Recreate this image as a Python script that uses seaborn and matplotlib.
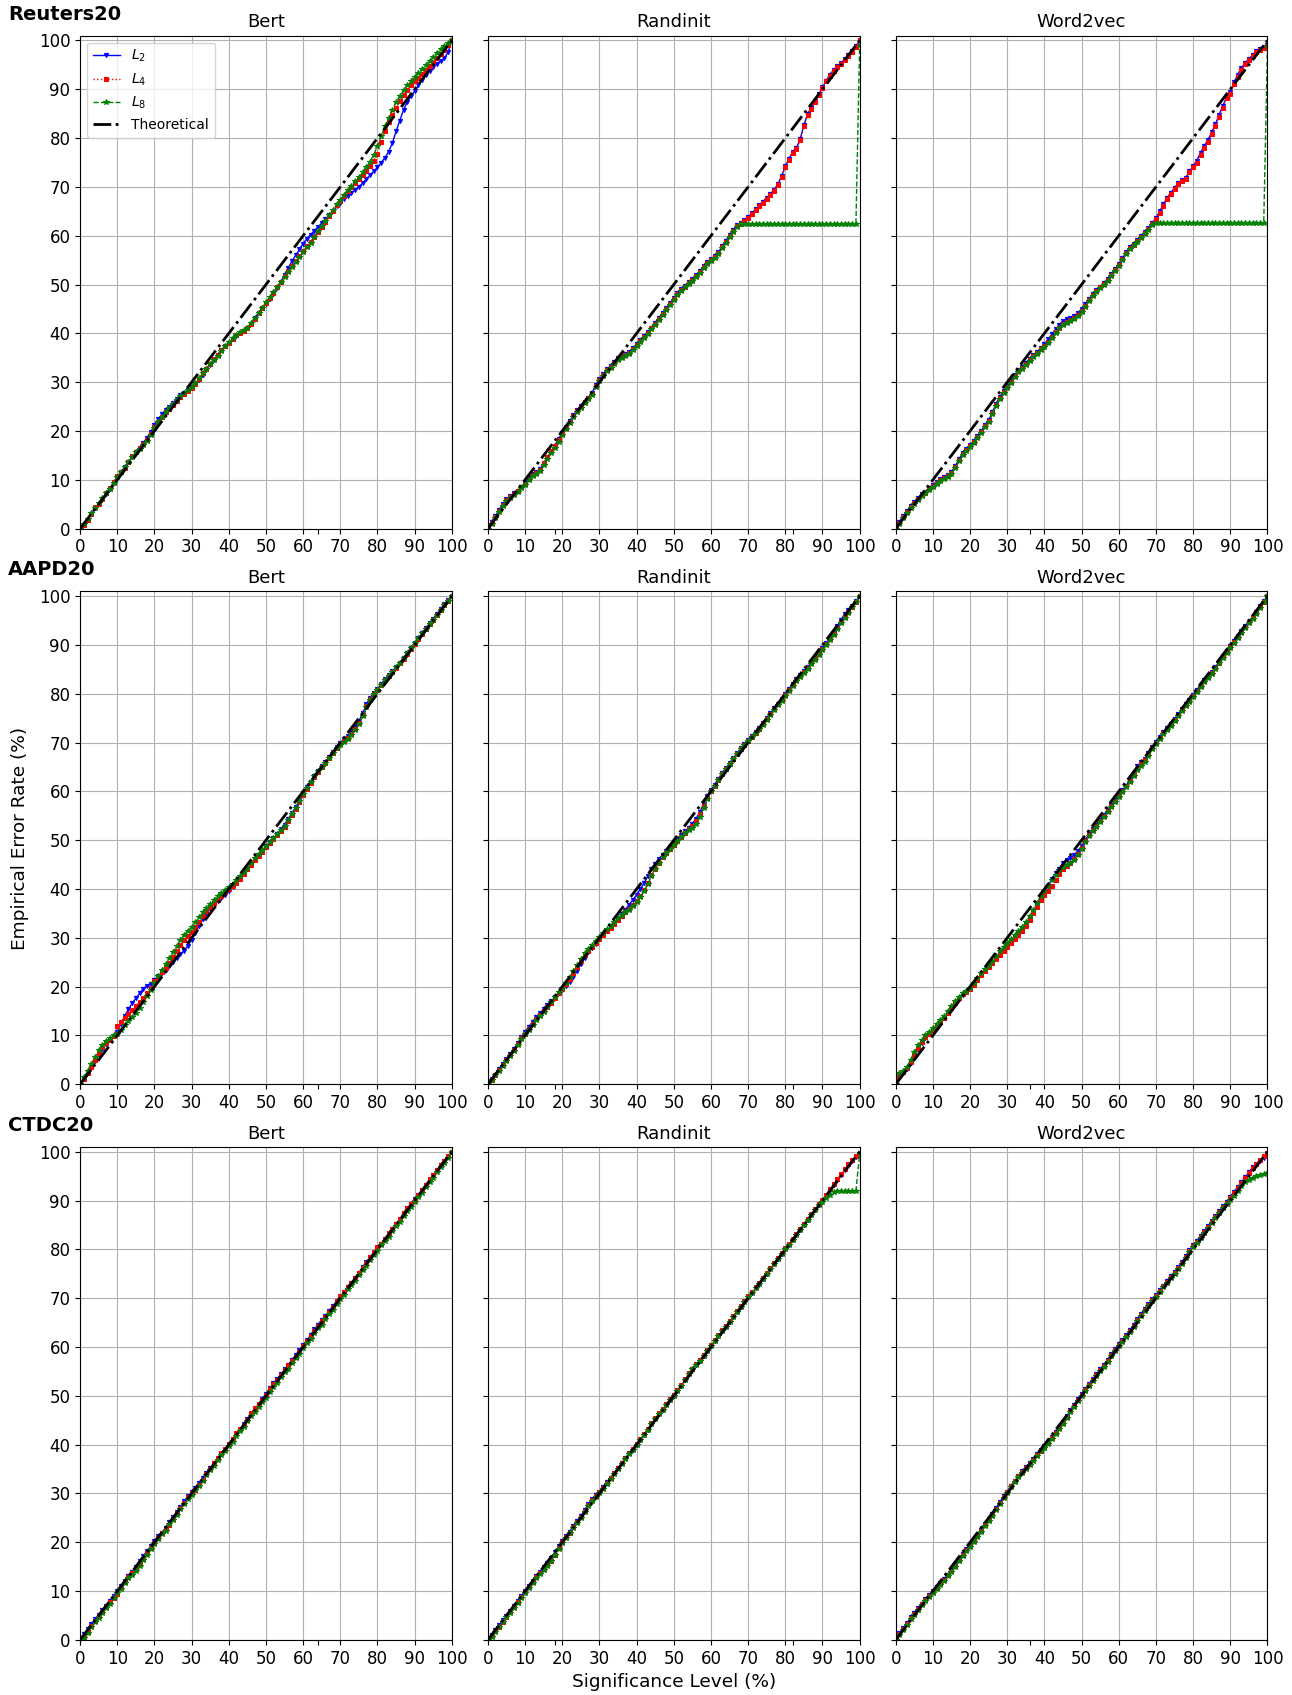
import numpy as np
import seaborn as sns
import matplotlib
matplotlib.use("Agg")
import matplotlib.pyplot as plt

# significance levels (%) on the x axis
sig_level = list(range(0, 101))

datasets = ["Reuters20", "AAPD20", "CTDC20"]
embeddings = ["Bert", "Randinit", "Word2vec"]

# ---------------- Reuters20 ----------------
reuters_bert_l2 = [
    0.0, 0.8, 1.8, 3.0, 4.2, 5.0, 6.0, 7.0, 8.2, 9.4,
    10.6, 11.6, 12.6, 13.6, 14.6, 15.6, 16.6, 17.6, 18.6, 19.8,
    21.2, 22.4, 23.4, 24.2, 25.0, 25.8, 26.6, 27.4, 27.8, 28.4,
    29.0, 29.6, 30.4, 31.4, 32.6, 33.6, 34.6, 35.6, 36.6, 37.4,
    38.0, 38.8, 39.4, 40.0, 40.4, 41.0, 42.0, 43.2, 44.2, 45.2,
    46.0, 47.0, 48.0, 49.2, 50.6, 52.0, 53.4, 54.8, 56.0, 57.2,
    58.4, 59.4, 60.2, 61.0, 61.8, 62.6, 63.4, 64.2, 65.0, 66.0,
    66.8, 67.6, 68.2, 68.8, 69.4, 70.0, 70.8, 71.6, 72.4, 73.2,
    74.0, 75.0, 76.0, 77.2, 79.0, 81.4, 83.6, 85.8, 87.4, 88.6,
    89.6, 90.8, 92.0, 93.0, 93.8, 94.6, 95.2, 95.8, 96.4, 97.6,
    100.0]
reuters_bert_l4 = [
    0.0, 0.8, 1.8, 3.0, 4.4, 5.0, 6.0, 7.2, 8.4, 9.6,
    10.8, 11.6, 12.4, 13.6, 14.8, 15.6, 16.6, 17.4, 18.2, 19.4,
    20.8, 21.8, 22.8, 23.8, 24.6, 25.4, 26.2, 27.0, 27.6, 28.2,
    28.8, 29.6, 30.6, 31.8, 32.8, 33.8, 34.8, 35.6, 36.6, 37.4,
    38.0, 38.8, 39.6, 40.0, 40.4, 41.0, 42.0, 43.0, 44.2, 45.2,
    46.2, 47.2, 48.2, 49.4, 50.6, 51.8, 52.8, 53.8, 54.8, 55.8,
    56.8, 57.8, 58.8, 59.8, 60.8, 61.8, 62.8, 64.0, 65.0, 66.2,
    67.2, 68.2, 69.2, 70.0, 70.8, 71.6, 72.4, 73.2, 74.2, 75.4,
    76.8, 79.2, 81.4, 83.2, 84.8, 86.2, 87.6, 88.8, 89.8, 90.8,
    91.6, 92.4, 93.2, 94.0, 94.8, 95.6, 96.4, 97.2, 98.0, 99.0,
    100.0]
reuters_bert_l8 = [
    0.0, 1.0, 2.0, 3.2, 4.2, 5.2, 6.2, 7.2, 8.2, 9.4,
    10.6, 11.6, 12.6, 13.6, 14.6, 15.6, 16.4, 17.2, 18.0, 19.2,
    20.6, 21.8, 22.8, 23.8, 24.8, 25.6, 26.4, 27.2, 27.8, 28.4,
    29.0, 29.8, 30.8, 31.8, 32.8, 33.8, 34.6, 35.4, 36.4, 37.4,
    38.2, 39.0, 39.6, 40.2, 40.6, 41.2, 42.2, 43.2, 44.2, 45.2,
    46.4, 47.4, 48.4, 49.6, 50.6, 51.6, 52.6, 53.6, 54.6, 55.6,
    56.6, 57.6, 58.6, 59.8, 61.0, 62.0, 63.0, 64.2, 65.2, 66.4,
    67.4, 68.4, 69.4, 70.2, 71.2, 72.0, 73.0, 74.0, 75.2, 76.6,
    78.4, 80.4, 82.4, 84.2, 85.8, 87.4, 88.6, 89.8, 90.8, 91.8,
    92.6, 93.4, 94.2, 95.0, 95.8, 96.6, 97.4, 98.2, 98.8, 99.4,
    100.0]

reuters_rand_l2 = [
    0.0, 1.4, 2.6, 3.8, 5.0, 6.0, 6.6, 7.2, 7.8, 8.6,
    9.4, 10.4, 11.2, 11.6, 12.2, 13.4, 14.6, 15.8, 17.0, 18.4,
    19.6, 20.8, 22.0, 23.2, 24.2, 25.2, 26.0, 26.8, 27.8, 29.4,
    30.6, 31.6, 32.6, 33.4, 34.2, 35.0, 35.4, 35.8, 36.2, 37.0,
    37.8, 38.6, 39.4, 40.2, 41.2, 42.2, 43.2, 44.2, 45.2, 46.2,
    47.2, 48.2, 49.0, 49.8, 50.6, 51.2, 52.0, 52.8, 53.8, 54.6,
    55.2, 55.8, 56.6, 57.8, 59.0, 60.2, 61.2, 62.2, 62.7, 63.2,
    63.8, 64.6, 65.4, 66.2, 67.0, 67.8, 68.6, 69.4, 70.6, 72.2,
    74.2, 75.8, 77.2, 78.0, 79.8, 82.6, 85.0, 86.2, 87.6, 89.0,
    90.4, 91.8, 93.0, 94.0, 94.8, 95.4, 96.2, 97.0, 97.8, 98.8,
    100.0]
reuters_rand_l4 = [
    0.0, 1.2, 2.4, 3.6, 4.8, 5.8, 6.4, 7.0, 7.8, 8.6,
    9.2, 10.2, 11.0, 11.4, 12.0, 13.4, 14.6, 15.8, 17.0, 18.2,
    19.4, 20.6, 21.8, 23.0, 24.0, 25.0, 26.0, 26.8, 27.6, 29.2,
    30.4, 31.4, 32.4, 33.2, 34.0, 34.8, 35.2, 35.6, 36.0, 36.8,
    37.6, 38.4, 39.2, 40.0, 41.0, 42.0, 43.0, 44.0, 45.0, 46.0,
    47.0, 48.0, 48.8, 49.6, 50.4, 51.0, 51.8, 52.6, 53.6, 54.4,
    55.0, 55.6, 56.4, 57.6, 58.8, 60.0, 61.0, 62.0, 62.5, 63.0,
    63.6, 64.4, 65.2, 66.0, 66.8, 67.6, 68.4, 69.2, 70.4, 72.0,
    74.0, 75.6, 77.0, 77.8, 79.6, 82.4, 84.8, 86.0, 87.4, 88.8,
    90.2, 91.6, 92.8, 93.8, 94.6, 95.2, 96.0, 96.8, 97.6, 98.6,
    100.0]
reuters_rand_l8 = [
    0.0, 1.0, 2.2, 3.4, 4.6, 5.6, 6.2, 6.8, 7.6, 8.4,
    9.0, 10.0, 10.8, 11.2, 11.8, 13.0, 14.2, 15.4, 16.6, 17.8,
    19.2, 20.4, 21.6, 22.8, 23.8, 24.8, 25.8, 26.6, 27.4, 29.0,
    30.2, 31.2, 32.2, 33.0, 33.8, 34.6, 35.0, 35.4, 35.8, 36.6,
    37.4, 38.2, 39.0, 39.8, 40.8, 41.8, 42.8, 43.8, 44.8, 45.8,
    46.8, 47.8, 48.6, 49.4, 50.2, 50.8, 51.6, 52.4, 53.4, 54.2,
    54.8, 55.4, 56.2, 57.4, 58.6, 59.8, 60.8, 61.8, 62.5, 62.5,
    62.5, 62.5, 62.5, 62.5, 62.5, 62.5, 62.5, 62.5, 62.5, 62.5,
    62.5, 62.5, 62.5, 62.5, 62.5, 62.5, 62.5, 62.5, 62.5, 62.5,
    62.5, 62.5, 62.5, 62.5, 62.5, 62.5, 62.5, 62.5, 62.5, 62.5,
    99.0]

reuters_w2v_l2 = [
    0.0, 1.4, 2.6, 3.6, 4.6, 5.4, 6.2, 7.0, 7.6, 8.4,
    9.0, 9.6, 10.2, 10.6, 11.0, 11.6, 12.8, 14.2, 15.4, 16.4,
    17.2, 18.0, 19.0, 20.0, 21.2, 22.2, 23.8, 25.6, 27.0, 28.2,
    29.2, 30.2, 31.4, 32.4, 33.2, 34.0, 34.8, 35.6, 36.2, 37.0,
    37.8, 38.8, 39.8, 40.8, 41.8, 42.6, 43.0, 43.2, 43.6, 44.2,
    45.0, 46.0, 47.0, 48.0, 48.8, 49.6, 50.4, 51.2, 52.2, 53.2,
    54.2, 55.4, 56.6, 57.6, 58.4, 59.2, 60.0, 60.8, 61.6, 62.6,
    63.6, 65.0, 66.4, 67.8, 68.8, 69.8, 70.8, 71.4, 71.8, 73.2,
    74.2, 75.4, 77.0, 78.4, 79.6, 81.2, 82.8, 84.8, 86.6, 88.4,
    89.4, 91.4, 93.0, 94.4, 95.4, 96.2, 97.0, 97.8, 98.2, 98.6,
    99.0]
reuters_w2v_l4 = [
    0.0, 1.2, 2.4, 3.4, 4.4, 5.2, 6.0, 6.8, 7.4, 8.2,
    8.8, 9.4, 10.0, 10.4, 10.8, 11.4, 12.6, 14.0, 15.2, 16.2,
    17.0, 17.8, 18.8, 19.8, 21.0, 22.0, 23.6, 25.4, 26.8, 28.0,
    29.0, 30.0, 31.2, 32.2, 33.0, 33.8, 34.6, 35.4, 36.0, 36.8,
    37.4, 38.2, 39.2, 40.2, 41.2, 42.0, 42.4, 42.8, 43.2, 43.8,
    44.6, 45.6, 46.8, 47.8, 48.6, 49.4, 50.2, 51.0, 52.0, 53.0,
    54.0, 55.2, 56.4, 57.4, 58.2, 59.0, 59.8, 60.6, 61.4, 62.4,
    63.4, 64.6, 66.0, 67.6, 68.6, 69.6, 70.6, 71.3, 71.6, 73.0,
    74.0, 75.0, 76.6, 78.0, 79.2, 80.8, 82.4, 84.4, 86.2, 88.2,
    89.0, 91.0, 92.6, 94.0, 95.2, 96.0, 96.8, 97.6, 98.0, 98.4,
    98.8]
reuters_w2v_l8 = [
    0.0, 1.0, 2.2, 3.2, 4.2, 5.0, 5.8, 6.6, 7.2, 8.0,
    8.6, 9.2, 9.8, 10.2, 10.6, 11.2, 12.4, 13.8, 15.0, 16.0,
    16.8, 17.6, 18.6, 19.6, 20.8, 21.8, 23.4, 25.2, 26.6, 27.8,
    28.8, 29.8, 31.0, 32.0, 32.8, 33.6, 34.4, 35.2, 35.8, 36.6,
    37.2, 38.0, 39.0, 40.0, 41.0, 41.8, 42.2, 42.6, 43.0, 43.6,
    44.4, 45.4, 46.6, 47.6, 48.4, 49.2, 50.0, 50.8, 51.8, 52.8,
    53.8, 55.0, 56.2, 57.2, 58.0, 58.8, 59.6, 60.4, 61.2, 62.2,
    62.7, 62.7, 62.7, 62.7, 62.7, 62.7, 62.7, 62.7, 62.7, 62.7,
    62.7, 62.7, 62.7, 62.7, 62.7, 62.7, 62.7, 62.7, 62.7, 62.7,
    62.7, 62.7, 62.7, 62.7, 62.7, 62.7, 62.7, 62.7, 62.7, 62.7,
    98.8]

# ---------------- AAPD20 ----------------
aapd_bert_l2 = [
    0.0, 1.2, 2.4, 3.6, 4.8, 6.0, 7.2, 8.2, 9.0, 9.8,
    10.8, 12.4, 14.0, 15.4, 16.6, 17.6, 18.6, 19.6, 20.2, 20.6,
    21.4, 22.2, 22.8, 23.4, 24.2, 25.0, 25.8, 26.6, 27.4, 28.4,
    29.6, 31.0, 32.4, 33.8, 35.0, 36.0, 37.0, 37.6, 38.2, 38.8,
    39.6, 40.4, 41.2, 42.2, 43.2, 44.2, 45.2, 46.2, 47.0, 47.8,
    48.8, 49.6, 50.4, 51.2, 52.2, 53.2, 54.4, 55.6, 56.8, 58.2,
    59.6, 60.8, 62.0, 63.2, 64.2, 65.2, 66.0, 67.0, 68.0, 69.0,
    70.0, 70.8, 71.4, 72.2, 73.2, 74.4, 76.0, 77.8, 79.2, 80.2,
    81.0, 82.0, 83.0, 83.8, 84.6, 85.4, 86.4, 87.4, 88.4, 89.4,
    90.4, 91.4, 92.4, 93.4, 94.4, 95.4, 96.4, 97.4, 98.4, 99.2,
    100.0]
aapd_bert_l4 = [
    0.0, 1.0, 2.4, 3.6, 5.0, 6.4, 7.6, 8.4, 9.0, 9.8,
    12.0, 12.8, 13.6, 14.4, 15.2, 16.0, 16.8, 17.6, 18.6, 19.8,
    21.2, 22.0, 23.0, 23.8, 24.8, 26.0, 27.4, 28.6, 29.6, 30.4,
    31.2, 32.2, 33.2, 34.4, 35.4, 36.4, 37.2, 37.8, 38.6, 39.4,
    40.0, 40.6, 41.2, 42.0, 43.0, 44.0, 45.0, 46.0, 46.8, 47.6,
    48.6, 49.4, 50.2, 51.0, 51.8, 52.8, 54.0, 55.2, 56.4, 57.8,
    59.2, 60.4, 61.8, 63.0, 64.0, 65.0, 65.8, 66.8, 67.8, 68.8,
    69.8, 70.4, 71.0, 71.8, 72.8, 74.0, 75.6, 77.4, 79.0, 80.0,
    80.8, 81.8, 82.8, 83.6, 84.4, 85.2, 86.2, 87.2, 88.2, 89.2,
    90.2, 91.2, 92.2, 93.2, 94.2, 95.2, 96.2, 97.2, 98.2, 99.0,
    100.0]
aapd_bert_l8 = [
    0.0, 1.4, 2.8, 4.2, 5.6, 7.0, 8.0, 8.8, 9.4, 10.0,
    10.4, 11.2, 12.2, 13.0, 13.8, 14.6, 15.6, 16.8, 18.0, 19.4,
    20.8, 22.2, 23.4, 24.6, 25.8, 27.0, 28.4, 29.6, 30.6, 31.4,
    32.2, 33.2, 34.2, 35.2, 36.2, 37.0, 37.8, 38.6, 39.2, 39.8,
    40.4, 41.0, 41.8, 42.6, 43.4, 44.4, 45.4, 46.4, 47.2, 48.0,
    48.8, 49.6, 50.4, 51.2, 52.0, 53.0, 54.2, 55.4, 56.6, 58.0,
    59.4, 60.6, 62.0, 63.2, 64.2, 65.0, 65.8, 66.8, 67.8, 68.8,
    69.6, 70.2, 70.8, 71.6, 72.6, 73.8, 75.4, 77.2, 78.8, 80.0,
    80.8, 81.8, 82.8, 83.6, 84.4, 85.4, 86.4, 87.4, 88.4, 89.4,
    90.4, 91.4, 92.4, 93.2, 94.2, 95.2, 96.2, 97.2, 98.2, 99.0,
    100.0]

aapd_rand_l2 = [
    0.0, 1.0, 2.0, 3.2, 4.2, 5.2, 6.2, 7.2, 8.4, 9.6,
    10.8, 11.8, 12.8, 13.8, 14.6, 15.4, 16.2, 17.0, 17.8, 18.6,
    19.4, 20.2, 21.0, 22.0, 23.2, 24.6, 25.8, 27.0, 28.0, 28.8,
    29.8, 30.6, 31.4, 32.2, 33.0, 33.8, 34.8, 35.8, 36.8, 37.8,
    38.8, 40.0, 41.2, 42.6, 44.0, 45.2, 46.2, 47.0, 47.8, 48.6,
    49.4, 50.2, 51.0, 51.8, 52.6, 53.4, 54.4, 55.8, 57.4, 59.0,
    60.2, 61.4, 62.6, 63.8, 64.8, 65.8, 66.8, 67.8, 68.8, 69.8,
    70.6, 71.4, 72.2, 73.0, 74.0, 75.0, 76.0, 77.0, 78.0, 79.0,
    80.0, 81.0, 82.0, 83.0, 83.8, 84.6, 85.4, 86.4, 87.4, 88.4,
    89.4, 90.4, 91.4, 92.4, 93.8, 95.2, 96.4, 97.2, 98.0, 99.0,
    100.0]
aapd_rand_l4 = [
    0.0, 0.8, 1.8, 3.0, 4.0, 5.0, 6.0, 7.0, 8.2, 9.4,
    10.4, 11.4, 12.4, 13.4, 14.2, 15.0, 15.8, 16.6, 17.6, 18.6,
    19.6, 20.6, 21.6, 22.8, 24.0, 25.2, 26.4, 27.4, 28.2, 29.0,
    29.8, 30.6, 31.4, 32.0, 32.8, 33.6, 34.4, 35.2, 36.0, 36.8,
    37.6, 38.6, 39.8, 41.2, 42.8, 44.2, 45.4, 46.6, 47.4, 48.2,
    49.0, 49.8, 50.6, 51.4, 52.2, 53.0, 54.0, 55.4, 57.0, 58.6,
    60.0, 61.2, 62.4, 63.6, 64.6, 65.6, 66.6, 67.6, 68.6, 69.6,
    70.4, 71.2, 72.0, 72.8, 73.8, 74.8, 75.8, 76.8, 77.8, 78.8,
    79.8, 80.8, 81.8, 82.8, 83.6, 84.4, 85.2, 86.2, 87.2, 88.2,
    89.2, 90.2, 91.2, 92.2, 93.4, 94.6, 95.8, 96.8, 97.8, 98.8,
    100.0]
aapd_rand_l8 = [
    0.0, 0.8, 1.8, 2.8, 3.8, 4.8, 5.8, 6.8, 8.0, 9.2,
    10.2, 11.2, 12.2, 13.2, 14.0, 14.8, 15.8, 16.8, 17.8, 18.8,
    19.8, 20.8, 22.0, 23.2, 24.4, 25.6, 26.8, 27.8, 28.6, 29.4,
    30.2, 31.0, 31.8, 32.4, 33.2, 34.0, 34.6, 35.2, 35.8, 36.6,
    37.4, 38.4, 39.6, 41.0, 42.6, 44.0, 45.4, 46.6, 47.4, 48.2,
    49.0, 49.8, 50.6, 51.4, 52.0, 52.6, 53.4, 54.8, 56.6, 58.4,
    60.0, 61.2, 62.4, 63.6, 64.6, 65.6, 66.6, 67.6, 68.6, 69.6,
    70.4, 71.2, 72.0, 72.8, 73.6, 74.6, 75.6, 76.6, 77.6, 78.6,
    79.6, 80.6, 81.6, 82.6, 83.4, 84.2, 85.0, 86.0, 87.0, 88.0,
    89.0, 90.0, 91.0, 92.0, 93.2, 94.4, 95.6, 96.6, 97.8, 98.8,
    100.0]

aapd_w2v_l2 = [
    0.0, 1.4, 2.4, 3.2, 4.4, 5.8, 7.2, 8.4, 9.4, 10.2,
    11.0, 11.8, 12.6, 13.6, 14.6, 15.6, 16.6, 17.4, 18.2, 18.8,
    19.6, 20.6, 21.6, 22.6, 23.4, 24.2, 25.0, 25.8, 26.8, 27.8,
    28.6, 29.4, 30.2, 31.0, 31.8, 32.8, 34.0, 35.4, 36.8, 38.2,
    39.4, 40.6, 42.0, 43.2, 44.2, 45.4, 46.0, 46.4, 47.0, 47.8,
    48.8, 50.0, 51.2, 52.2, 53.2, 54.2, 55.2, 56.2, 57.2, 58.2,
    59.2, 60.2, 61.2, 62.4, 63.8, 65.2, 66.0, 66.6, 67.8, 69.0,
    70.2, 71.2, 72.2, 73.0, 73.8, 74.8, 75.8, 76.8, 77.8, 78.8,
    79.8, 80.8, 81.8, 82.8, 83.6, 84.4, 85.4, 86.6, 87.8, 88.8,
    89.8, 90.8, 91.8, 92.8, 93.8, 94.8, 95.8, 96.8, 98.0, 99.0,
    100.0]
aapd_w2v_l4 = [
    0.0, 1.6, 2.6, 3.4, 4.6, 6.0, 7.4, 8.6, 9.6, 10.4,
    11.2, 12.0, 12.8, 13.6, 14.6, 15.6, 16.6, 17.6, 18.4, 19.0,
    19.6, 20.4, 21.4, 22.4, 23.2, 24.0, 24.8, 25.6, 26.4, 27.4,
    28.2, 29.0, 29.8, 30.6, 31.4, 32.4, 33.6, 35.0, 36.4, 37.8,
    38.8, 39.6, 40.6, 41.8, 43.0, 44.0, 44.8, 45.4, 46.2, 47.2,
    48.4, 49.8, 51.0, 52.0, 53.0, 54.0, 55.0, 56.0, 57.0, 58.0,
    59.0, 60.0, 61.0, 62.2, 63.4, 64.6, 65.6, 66.4, 67.6, 68.8,
    70.0, 71.0, 72.0, 72.8, 73.6, 74.6, 75.6, 76.6, 77.6, 78.6,
    79.6, 80.6, 81.6, 82.6, 83.4, 84.2, 85.2, 86.4, 87.6, 88.6,
    89.6, 90.6, 91.6, 92.6, 93.6, 94.6, 95.6, 96.6, 97.8, 98.8,
    100.0]
aapd_w2v_l8 = [
    0.0, 2.4, 2.8, 3.6, 5.0, 6.6, 8.0, 9.0, 10.0, 10.8,
    11.6, 12.4, 13.2, 14.0, 15.0, 16.0, 17.0, 17.8, 18.6, 19.2,
    19.8, 20.8, 21.8, 22.8, 23.6, 24.4, 25.2, 26.2, 27.2, 28.2,
    29.0, 29.8, 30.6, 31.4, 32.2, 33.2, 34.4, 35.8, 37.2, 38.6,
    39.6, 40.6, 41.8, 42.8, 43.8, 44.6, 45.0, 45.4, 46.0, 47.0,
    48.2, 49.6, 50.8, 51.8, 52.8, 53.8, 54.8, 55.8, 56.8, 57.8,
    58.8, 59.8, 60.8, 62.0, 63.2, 64.4, 65.2, 66.0, 67.2, 68.6,
    69.8, 70.8, 71.8, 72.6, 73.4, 74.4, 75.4, 76.4, 77.4, 78.4,
    79.4, 80.4, 81.4, 82.4, 83.2, 84.0, 85.0, 86.2, 87.4, 88.4,
    89.4, 90.4, 91.4, 92.4, 93.4, 94.4, 95.4, 96.4, 97.6, 98.8,
    100.0]

# ---------------- CTDC20 ----------------
ctdc_bert_l2 = [
    0.0, 1.2, 2.2, 3.2, 4.2, 5.2, 6.2, 7.0, 8.0, 9.0,
    10.0, 11.0, 12.0, 13.0, 14.0, 15.0, 16.2, 17.2, 18.2, 19.2,
    20.2, 21.2, 22.0, 23.0, 24.2, 25.2, 26.2, 27.2, 28.4, 29.4,
    30.2, 31.2, 32.2, 33.2, 34.2, 35.2, 36.2, 37.0, 38.0, 39.0,
    40.0, 41.0, 42.0, 43.0, 44.2, 45.2, 46.2, 47.2, 48.2, 49.4,
    50.4, 51.6, 52.6, 53.4, 54.4, 55.4, 56.4, 57.4, 58.4, 59.4,
    60.4, 61.4, 62.4, 63.6, 64.6, 65.6, 66.4, 67.4, 68.4, 69.4,
    70.2, 71.2, 72.2, 73.2, 74.2, 75.2, 76.4, 77.4, 78.4, 79.2,
    80.2, 81.2, 82.2, 83.2, 84.2, 85.2, 86.2, 87.2, 88.4, 89.4,
    90.4, 91.2, 92.2, 93.2, 94.2, 95.2, 96.2, 97.2, 98.2, 99.0,
    100.0]
ctdc_bert_l4 = [
    0.0, 0.6, 1.6, 2.8, 3.8, 4.8, 5.8, 6.8, 7.8, 8.6,
    9.4, 10.6, 11.8, 12.8, 13.8, 14.6, 15.6, 16.6, 17.8, 18.8,
    19.8, 20.8, 21.8, 22.8, 23.6, 24.8, 26.0, 27.0, 28.0, 29.2,
    30.0, 30.8, 31.8, 32.8, 34.0, 35.0, 36.2, 37.2, 38.2, 39.2,
    40.2, 41.2, 42.4, 43.2, 44.0, 45.0, 46.4, 47.6, 48.4, 49.2,
    50.2, 51.4, 52.4, 53.2, 54.2, 55.2, 56.4, 57.2, 58.0, 59.0,
    60.2, 61.2, 62.2, 63.2, 64.4, 65.4, 66.2, 67.2, 68.2, 69.4,
    70.4, 71.2, 72.2, 73.2, 74.2, 75.2, 76.2, 77.2, 78.4, 79.4,
    80.4, 81.2, 82.2, 83.4, 84.2, 85.2, 86.2, 87.4, 88.4, 89.2,
    90.2, 91.2, 92.2, 93.2, 94.4, 95.2, 96.2, 97.2, 98.2, 99.2,
    100.0]
ctdc_bert_l8 = [
    0.0, 0.4, 1.4, 2.6, 3.6, 4.4, 5.6, 6.6, 7.4, 8.6,
    9.6, 10.4, 11.6, 12.6, 13.4, 14.2, 15.2, 16.4, 17.4, 18.6,
    19.6, 20.6, 21.6, 22.4, 23.8, 24.6, 25.6, 26.8, 27.8, 28.8,
    29.6, 30.8, 31.6, 32.6, 33.8, 34.8, 35.6, 36.8, 37.8, 38.8,
    39.8, 40.6, 41.8, 42.8, 43.6, 44.8, 45.8, 46.6, 47.8, 48.8,
    49.6, 50.8, 51.8, 52.6, 53.8, 54.8, 55.6, 56.8, 57.8, 58.6,
    59.8, 60.8, 61.6, 62.8, 63.8, 64.6, 65.8, 66.8, 67.6, 68.8,
    69.8, 70.6, 71.8, 72.8, 73.6, 74.8, 75.8, 76.6, 77.8, 78.8,
    79.6, 80.8, 81.8, 82.6, 83.8, 84.8, 85.6, 86.8, 87.8, 88.6,
    89.8, 90.8, 91.6, 92.8, 93.8, 94.6, 95.8, 96.8, 97.6, 98.8,
    100.0]

ctdc_rand_l2 = [
    0.0, 1.0, 2.0, 3.0, 4.0, 5.0, 6.0, 7.0, 8.0, 9.0,
    10.0, 11.0, 12.0, 13.0, 14.0, 15.0, 15.8, 16.8, 18.0, 19.2,
    20.2, 21.2, 22.2, 23.4, 24.4, 25.4, 26.6, 27.8, 28.8, 29.6,
    30.4, 31.4, 32.4, 33.2, 34.2, 35.2, 36.2, 37.2, 38.2, 39.0,
    40.0, 41.0, 42.0, 43.0, 44.2, 45.2, 46.2, 47.2, 48.2, 49.2,
    50.0, 51.0, 52.0, 53.2, 54.4, 55.4, 56.4, 57.2, 58.2, 59.2,
    60.2, 61.2, 62.2, 63.2, 64.2, 65.2, 66.2, 67.2, 68.2, 69.2,
    70.2, 71.0, 72.0, 73.0, 74.0, 75.0, 76.0, 77.0, 78.0, 79.0,
    80.0, 81.0, 82.0, 83.0, 84.0, 85.0, 86.0, 87.0, 88.0, 89.0,
    90.0, 91.0, 92.2, 93.2, 94.2, 95.2, 96.2, 97.2, 98.2, 99.0,
    99.6]
ctdc_rand_l4 = [
    0.0, 0.8, 1.8, 2.6, 3.6, 4.6, 5.8, 6.8, 7.8, 8.8,
    9.8, 10.8, 11.8, 12.8, 13.8, 14.6, 15.4, 16.2, 17.4, 18.8,
    20.0, 21.0, 22.0, 23.2, 24.2, 25.2, 26.4, 27.6, 28.6, 29.4,
    30.2, 31.2, 32.2, 33.2, 34.2, 35.2, 36.2, 37.2, 38.2, 39.2,
    40.2, 41.2, 42.2, 43.2, 44.4, 45.4, 46.4, 47.4, 48.4, 49.4,
    50.2, 51.2, 52.2, 53.4, 54.6, 55.6, 56.6, 57.4, 58.4, 59.4,
    60.4, 61.4, 62.4, 63.4, 64.4, 65.4, 66.4, 67.4, 68.4, 69.4,
    70.4, 71.2, 72.2, 73.2, 74.2, 75.2, 76.2, 77.2, 78.2, 79.2,
    80.2, 81.2, 82.2, 83.2, 84.2, 85.2, 86.2, 87.2, 88.2, 89.2,
    90.2, 91.2, 92.4, 93.4, 94.4, 95.4, 96.4, 97.4, 98.4, 99.2,
    99.8]
ctdc_rand_l8 = [
    0.0, 0.6, 1.6, 2.6, 3.6, 4.6, 5.6, 6.6, 7.6, 8.6,
    9.6, 10.6, 11.6, 12.6, 13.6, 14.4, 15.2, 16.2, 17.4, 18.6,
    19.8, 20.8, 21.8, 23.0, 24.0, 25.0, 26.2, 27.4, 28.4, 29.2,
    30.0, 31.0, 32.0, 33.0, 34.0, 35.0, 36.0, 37.0, 38.0, 39.0,
    40.0, 41.0, 42.0, 43.0, 44.2, 45.2, 46.2, 47.2, 48.2, 49.2,
    50.0, 51.0, 52.0, 53.2, 54.4, 55.4, 56.4, 57.2, 58.2, 59.2,
    60.2, 61.2, 62.2, 63.2, 64.2, 65.2, 66.2, 67.2, 68.2, 69.2,
    70.2, 71.0, 72.0, 73.0, 74.0, 75.0, 76.0, 77.0, 78.0, 79.0,
    80.0, 81.0, 82.0, 83.0, 84.0, 85.0, 86.0, 87.0, 88.0, 89.0,
    89.8, 90.6, 91.2, 91.8, 92.0, 92.0, 92.0, 92.0, 92.0, 92.0,
    99.6]

ctdc_w2v_l2 = [
    0.0, 1.4, 2.4, 3.4, 4.6, 5.6, 6.6, 7.4, 8.4, 9.2,
    10.0, 10.8, 11.6, 12.4, 13.4, 14.4, 15.4, 16.6, 17.6, 18.6,
    19.4, 20.4, 21.4, 22.6, 23.8, 24.8, 25.8, 27.0, 28.2, 29.4,
    30.4, 31.6, 32.6, 33.6, 34.6, 35.4, 36.2, 37.0, 38.0, 39.0,
    39.8, 40.6, 41.6, 42.6, 43.6, 44.6, 45.8, 47.0, 48.2, 49.4,
    50.4, 51.4, 52.4, 53.4, 54.4, 55.4, 56.4, 57.4, 58.6, 59.6,
    60.6, 61.4, 62.4, 63.4, 64.6, 65.8, 66.8, 67.8, 68.8, 69.8,
    70.6, 71.6, 72.6, 73.6, 74.6, 75.4, 76.4, 77.4, 78.6, 79.8,
    80.8, 81.8, 82.8, 83.8, 84.8, 85.8, 86.8, 87.8, 88.8, 89.8,
    90.8, 91.8, 92.8, 93.8, 94.8, 95.8, 96.8, 97.4, 98.2, 98.8,
    99.2]
ctdc_w2v_l4 = [
    0.0, 1.2, 2.2, 3.2, 4.4, 5.4, 6.4, 7.4, 8.2, 9.0,
    9.8, 10.6, 11.4, 12.2, 13.2, 14.2, 15.2, 16.4, 17.4, 18.4,
    19.2, 20.2, 21.2, 22.4, 23.6, 24.6, 25.6, 26.8, 28.0, 29.2,
    30.2, 31.6, 32.6, 33.6, 34.4, 35.2, 36.0, 36.8, 37.8, 38.8,
    39.6, 40.4, 41.4, 42.4, 43.4, 44.4, 45.6, 46.8, 48.0, 49.2,
    50.2, 51.2, 52.2, 53.2, 54.2, 55.2, 56.2, 57.2, 58.4, 59.4,
    60.4, 61.2, 62.2, 63.2, 64.4, 65.6, 66.6, 67.6, 68.6, 69.6,
    70.4, 71.4, 72.4, 73.4, 74.4, 75.2, 76.2, 77.2, 78.4, 79.6,
    80.6, 81.6, 82.6, 83.6, 84.6, 85.6, 86.6, 87.6, 88.6, 89.6,
    90.6, 91.6, 92.6, 93.6, 94.6, 95.6, 96.6, 97.4, 98.4, 99.2,
    99.8]
ctdc_w2v_l8 = [
    0.0, 1.0, 2.0, 3.0, 4.2, 5.2, 6.2, 7.2, 8.0, 8.8,
    9.6, 10.4, 11.2, 12.0, 13.0, 14.0, 15.0, 16.2, 17.2, 18.2,
    19.0, 20.0, 21.0, 22.2, 23.4, 24.4, 25.4, 26.6, 27.8, 29.0,
    30.0, 31.4, 32.4, 33.4, 34.2, 35.0, 35.8, 36.6, 37.6, 38.6,
    39.4, 40.2, 41.2, 42.2, 43.2, 44.2, 45.4, 46.6, 47.8, 49.0,
    50.0, 51.0, 52.0, 53.0, 54.0, 55.0, 56.0, 57.0, 58.2, 59.2,
    60.2, 61.0, 62.0, 63.0, 64.2, 65.4, 66.4, 67.4, 68.4, 69.4,
    70.2, 71.2, 72.2, 73.2, 74.2, 75.0, 76.0, 77.0, 78.2, 79.4,
    80.4, 81.4, 82.4, 83.4, 84.4, 85.4, 86.4, 87.4, 88.4, 89.4,
    90.2, 91.0, 92.0, 93.0, 93.8, 94.3, 94.7, 95.0, 95.2, 95.4,
    95.6]

results = {
    ("Reuters20", "Bert"): (reuters_bert_l2, reuters_bert_l4, reuters_bert_l8),
    ("Reuters20", "Randinit"): (reuters_rand_l2, reuters_rand_l4, reuters_rand_l8),
    ("Reuters20", "Word2vec"): (reuters_w2v_l2, reuters_w2v_l4, reuters_w2v_l8),
    ("AAPD20", "Bert"): (aapd_bert_l2, aapd_bert_l4, aapd_bert_l8),
    ("AAPD20", "Randinit"): (aapd_rand_l2, aapd_rand_l4, aapd_rand_l8),
    ("AAPD20", "Word2vec"): (aapd_w2v_l2, aapd_w2v_l4, aapd_w2v_l8),
    ("CTDC20", "Bert"): (ctdc_bert_l2, ctdc_bert_l4, ctdc_bert_l8),
    ("CTDC20", "Randinit"): (ctdc_rand_l2, ctdc_rand_l4, ctdc_rand_l8),
    ("CTDC20", "Word2vec"): (ctdc_w2v_l2, ctdc_w2v_l4, ctdc_w2v_l8),
}

# label, color, linestyle, marker, markersize
series_style = [
    ("$L_2$", "blue", "-", "v", 3),
    ("$L_4$", "red", ":", "s", 3),
    ("$L_8$", "green", "--", "*", 4),
]

fig = plt.figure(figsize=(12.92, 16.95), dpi=100)
gs = fig.add_gridspec(3, 3, left=0.062, right=0.981, top=0.979, bottom=0.0325,
                      wspace=0.097, hspace=0.127)

for r, dset in enumerate(datasets):
    row_axes = []
    for c, emb in enumerate(embeddings):
        ax = fig.add_subplot(gs[r, c])
        row_axes.append(ax)
        for (lab, col, ls, mk, ms), vals in zip(series_style, results[(dset, emb)]):
            sns.lineplot(x=sig_level, y=vals, ax=ax, color=col, linestyle=ls,
                         linewidth=1, marker=mk, markersize=ms,
                         markeredgecolor=col, label=lab, errorbar=None)
        sns.lineplot(x=sig_level, y=sig_level, ax=ax, color="black",
                     linestyle="-.", linewidth=2, label="Theoretical", errorbar=None)
        ax.set_xlim(0, 100)
        ax.set_ylim(0, 101)
        ax.set_xticks(range(0, 101, 10))
        ax.set_yticks(range(0, 101, 10))
        ax.tick_params(labelsize=12)
        if c > 0:
            ax.tick_params(labelleft=False)
        ax.grid(True)
        ax.set_xlabel("")
        ax.set_ylabel("")
        ax.set_title(emb, fontsize=13)
        if r == 0 and c == 0:
            ax.legend(loc="upper left", fontsize=10)
        else:
            ax.get_legend().remove()

    # hidden axis spanning the row (leaves its own tick marks)
    big = fig.add_subplot(gs[r, :], frameon=False)
    big.tick_params(labelbottom=False, labelleft=False, left=False)
    big.grid(False)

    top = row_axes[0].get_position().y1
    fig.text(0.006, top + 16 / 1695, dset, fontsize=14, fontweight="bold",
             ha="left", va="baseline")

fig.text(0.5215, 0.0045, "Significance Level (%)", fontsize=13.3,
         ha="center", va="baseline")
fig.text(0.0152, 0.5056, "Empirical Error Rate (%)", fontsize=13.3,
         ha="center", va="center", rotation=90)

fig.savefig("out.png", dpi=100)
